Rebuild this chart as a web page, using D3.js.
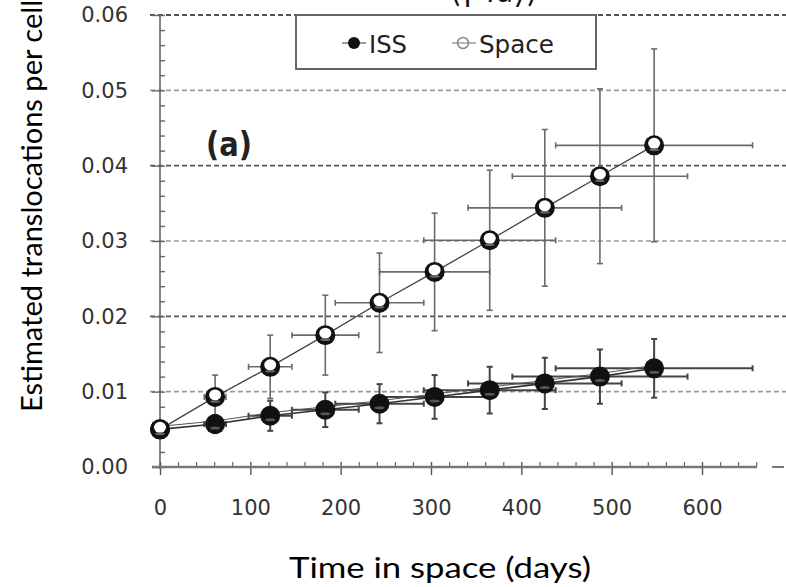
<!DOCTYPE html>
<html>
<head>
<meta charset="utf-8">
<script src="https://cdn.jsdelivr.net/npm/d3@7"></script>
<style>
  html, body { margin: 0; padding: 0; background: #fff; }
  svg { display: block; }
</style>
</head>
<body>
<svg id="chart" width="786" height="587"></svg>
<script>
// ---- data ----
const days = [0, 61, 122, 183, 243, 304, 365, 426, 487, 547];
const daysErr = [0, 12, 24, 37, 49, 61, 73, 85, 97, 109];
const issValues = [0.0050, 0.0057, 0.0068, 0.0076, 0.0084, 0.0093, 0.0102, 0.0111, 0.0120, 0.0131];
const issErr = [0.0003, 0.0012, 0.0020, 0.0023, 0.0026, 0.0029, 0.0031, 0.0034, 0.0036, 0.0039];
const spaceValues = [0.0050, 0.0093, 0.0133, 0.0175, 0.0218, 0.0259, 0.0301, 0.0344, 0.0386, 0.0427];
const spaceErr = [0.0003, 0.0029, 0.0042, 0.0053, 0.0066, 0.0078, 0.0093, 0.0104, 0.0116, 0.0128];
const xTicks = [0, 100, 200, 300, 400, 500, 600];
const yTicks = [0, 0.01, 0.02, 0.03, 0.04, 0.05, 0.06];
const seriesNames = ["ISS", "Space"];

const svg = d3.select("#chart");
const x = d3.scaleLinear().domain([0, 600]).range([160, 702]);
const y = d3.scaleLinear().domain([0, 0.06]).range([467, 15]);

// partial title at top (cut off in the reference)
svg.append("text")
  .attr("x", 452).attr("y", 2)
  .attr("font-family", "Lato, 'Open Sans', sans-serif")
  .attr("font-size", 30).attr("fill", "#111")
  .text("(γ-ray)");

// grid lines
svg.append("g").selectAll("line")
  .data(yTicks.filter(d => d > 0))
  .join("line")
  .attr("x1", 150).attr("x2", 786)
  .attr("y1", d => y(d)).attr("y2", d => y(d))
  .attr("stroke", (d, i) => (i % 2 === 1 ? "#555" : "#999"))
  .attr("stroke-width", d => d === 0.06 ? 2.2 : 1.6)
  .attr("stroke-dasharray", "5,3");

// y axis
const yAxisG = svg.append("g").attr("transform", "translate(160,0)");
yAxisG.call(d3.axisLeft(y).tickValues(yTicks).tickSize(8).tickPadding(24)
  .tickFormat(d3.format(".2f")));
yAxisG.select(".domain").remove();
yAxisG.selectAll(".tick line").attr("stroke", "#666").attr("stroke-width", 1.4);
yAxisG.selectAll(".tick text").attr("font-family", "'DejaVu Sans', sans-serif")
  .attr("font-size", 21).attr("fill", "#333");
const yRight = svg.append("g").attr("transform", "translate(160,0)");
yRight.call(d3.axisRight(y).tickValues(d3.range(0, 0.0601, 0.002)).tickSize(5).tickFormat(""));
yRight.select(".domain").remove();
yRight.selectAll(".tick line").attr("stroke", "#666").attr("stroke-width", 1.4);
svg.append("line").attr("x1", 160).attr("x2", 160).attr("y1", y(0.06)).attr("y2", y(0) + 2)
  .attr("stroke", "#666").attr("stroke-width", 1.6);

// x axis
const xAxisG = svg.append("g").attr("transform", "translate(0,467)");
xAxisG.call(d3.axisBottom(x).tickValues(xTicks).tickSize(8).tickPadding(25));
xAxisG.select(".domain").remove();
xAxisG.selectAll(".tick line").attr("stroke", "#555").attr("stroke-width", 1.4).attr("y1", -5);
xAxisG.selectAll(".tick text").attr("font-family", "'DejaVu Sans', sans-serif")
  .attr("font-size", 21).attr("fill", "#333");
const xMinor = svg.append("g").attr("transform", "translate(0,467)");
xMinor.call(d3.axisBottom(x).tickValues(d3.range(20, 661, 20).filter(d => d % 100 !== 0)).tickSize(-5).tickFormat(""));
xMinor.select(".domain").remove();
xMinor.selectAll(".tick line").attr("stroke", "#666").attr("stroke-width", 1.2);
svg.append("line").attr("x1", 152).attr("x2", 757).attr("y1", 467).attr("y2", 467)
  .attr("stroke", "#777").attr("stroke-width", 2.4);
svg.append("line").attr("x1", 772).attr("x2", 784).attr("y1", 467).attr("y2", 467)
  .attr("stroke", "#777").attr("stroke-width", 2);

// series
const iss = days.map((d, i) => ({t: d, v: issValues[i], e: issErr[i], te: daysErr[i]}));
const space = days.map((d, i) => ({t: d, v: spaceValues[i], e: spaceErr[i], te: daysErr[i]}));

function errorBars(data, color, width) {
  const g = svg.append("g").attr("stroke", color).attr("stroke-width", width).attr("fill", "none");
  data.forEach(p => {
    if (p.e > 0.0005) {
      g.append("line").attr("x1", x(p.t)).attr("x2", x(p.t)).attr("y1", y(p.v - p.e)).attr("y2", y(p.v + p.e));
      [p.v - p.e, p.v + p.e].forEach(v => g.append("line")
        .attr("x1", x(p.t) - 3).attr("x2", x(p.t) + 3).attr("y1", y(v)).attr("y2", y(v)));
    }
    if (p.te > 0) {
      g.append("line").attr("x1", x(p.t - p.te)).attr("x2", x(p.t + p.te)).attr("y1", y(p.v)).attr("y2", y(p.v));
      [p.t - p.te, p.t + p.te].forEach(t => g.append("line")
        .attr("x1", x(t)).attr("x2", x(t)).attr("y1", y(p.v) - 3).attr("y2", y(p.v) + 3));
    }
  });
}
errorBars(space, "#6a6a6a", 1.6);
errorBars(iss, "#444", 2);

const line = d3.line().x(d => x(d.t)).y(d => y(d.v));
svg.append("path").datum(space).attr("d", line).attr("fill", "none").attr("stroke", "#444").attr("stroke-width", 1.3);
svg.append("path").datum(iss).attr("d", line).attr("fill", "none").attr("stroke", "#333").attr("stroke-width", 1.6);
svg.append("path").datum(iss).attr("d", line).attr("fill", "none").attr("stroke", "#555").attr("stroke-width", 1)
  .attr("transform", "translate(0,-3)");

// ISS markers
svg.append("g").selectAll("circle").data(iss).join("circle")
  .attr("cx", d => x(d.t)).attr("cy", d => y(d.v)).attr("r", 10).attr("fill", "#111");
svg.append("g").selectAll("ellipse").data(iss).join("ellipse")
  .attr("cx", d => x(d.t)).attr("cy", d => y(d.v) + 4).attr("rx", 5).attr("ry", 1.5).attr("fill", "#555");

// Space markers
const sg = svg.append("g").selectAll("g").data(space).join("g")
  .attr("transform", d => `translate(${x(d.t)},${y(d.v)})`);
sg.append("circle").attr("r", 10).attr("fill", "#111");
sg.append("ellipse").attr("cx", 0).attr("cy", -2).attr("rx", 6).attr("ry", 5.5).attr("fill", "#fff");
sg.append("ellipse").attr("cx", 0).attr("cy", 4.5).attr("rx", 5).attr("ry", 1.3).attr("fill", "#666");

// (a) label
svg.append("text").attr("x", 206).attr("y", 156)
  .attr("font-family", "'DejaVu Sans Condensed', 'Liberation Sans Narrow', sans-serif")
  .attr("font-weight", "bold").attr("font-size", 34).attr("fill", "#222")
  .attr("textLength", 46).attr("lengthAdjust", "spacingAndGlyphs").text("(a)");

// legend
svg.append("rect").attr("x", 296).attr("y", 15).attr("width", 300).attr("height", 54)
  .attr("fill", "#fff").attr("stroke", "#666").attr("stroke-width", 2);
const lg = svg.append("g");
lg.append("line").attr("x1", 342).attr("x2", 366).attr("y1", 43).attr("y2", 43).attr("stroke", "#777").attr("stroke-width", 1.5);
lg.append("circle").attr("cx", 354).attr("cy", 43).attr("r", 6).attr("fill", "#111");
lg.append("text").attr("x", 369).attr("y", 53)
  .attr("font-family", "'DejaVu Sans Condensed', 'Liberation Sans Narrow', sans-serif")
  .attr("font-size", 25).attr("fill", "#222").attr("textLength", 38).attr("lengthAdjust", "spacingAndGlyphs")
  .text(seriesNames[0]);
lg.append("line").attr("x1", 452).attr("x2", 476).attr("y1", 43).attr("y2", 43).attr("stroke", "#999").attr("stroke-width", 1.5);
lg.append("circle").attr("cx", 463).attr("cy", 43).attr("r", 5.5).attr("fill", "#fff").attr("stroke", "#888").attr("stroke-width", 1.5);
lg.append("line").attr("x1", 458).attr("x2", 468).attr("y1", 43).attr("y2", 43).attr("stroke", "#888").attr("stroke-width", 1.2);
lg.append("text").attr("x", 479).attr("y", 53)
  .attr("font-family", "'DejaVu Sans Condensed', 'Liberation Sans Narrow', sans-serif")
  .attr("font-size", 25).attr("fill", "#222").attr("textLength", 75).attr("lengthAdjust", "spacingAndGlyphs")
  .text(seriesNames[1]);

// axis titles
svg.append("text")
  .attr("transform", "translate(42,412) rotate(-90)")
  .attr("font-family", "Lato, 'Open Sans', sans-serif").attr("font-size", 29).attr("fill", "#000")
  .attr("textLength", 412).attr("lengthAdjust", "spacingAndGlyphs")
  .text("Estimated translocations per cell");
svg.append("text")
  .attr("x", 289).attr("y", 578)
  .attr("font-family", "Lato, 'Open Sans', sans-serif").attr("font-size", 29).attr("fill", "#000")
  .attr("textLength", 302).attr("lengthAdjust", "spacingAndGlyphs")
  .text("Time in space (days)");
</script>
</body>
</html>
